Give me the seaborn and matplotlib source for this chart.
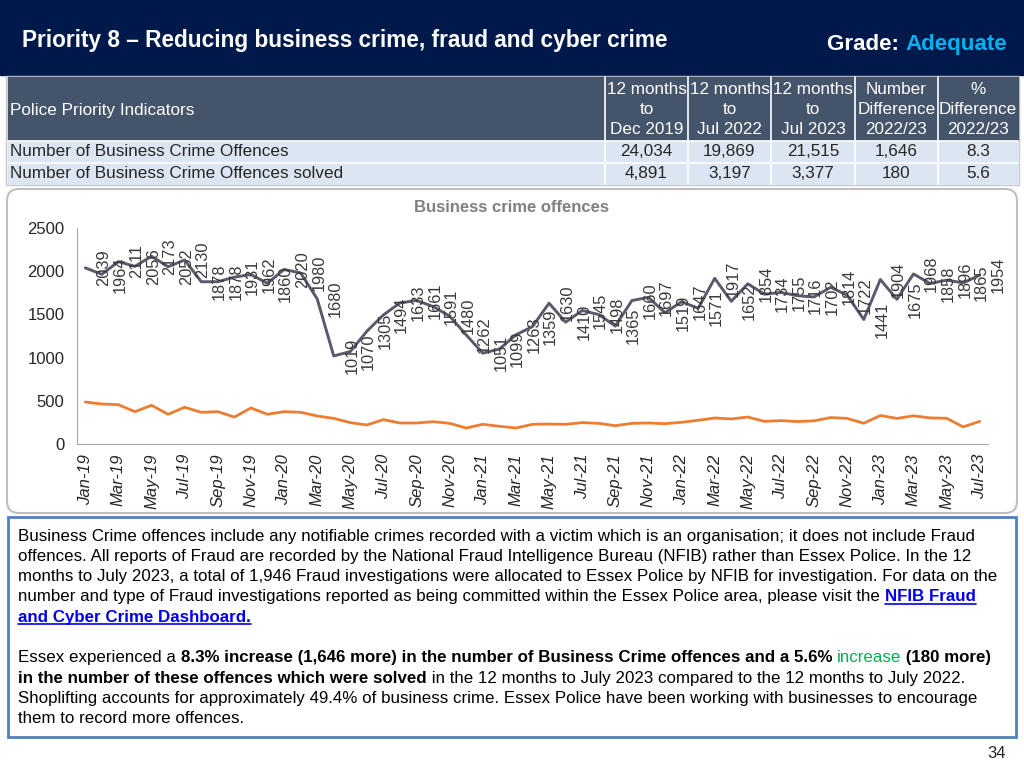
import numpy as np
import pandas as pd
import seaborn as sns
import matplotlib.pyplot as plt
from matplotlib import font_manager
from matplotlib.patches import Rectangle, FancyBboxPatch


# ---------- DATA ---------- #

months = list(pd.date_range("2019-01-01", periods=55, freq="MS").strftime("%b-%y"))

offences = [2039, 1964, 2111, 2056, 2173, 2052, 2130, 1878, 1878, 1931, 1962, 1860,
            2020, 1980, 1680, 1019, 1070, 1305, 1494, 1633, 1661, 1591, 1480, 1262,
            1051, 1099, 1263, 1359, 1630, 1410, 1545, 1498, 1365, 1660, 1697, 1519,
            1647, 1571, 1917, 1652, 1854, 1734, 1755, 1716, 1702, 1814, 1722, 1441,
            1904, 1675, 1968, 1858, 1896, 1865, 1954]

solved = [486, 463, 455, 374, 448, 344, 425, 367, 374, 312, 417, 344,
          374, 367, 324, 297, 247, 220, 282, 243, 243, 258, 239, 185,
          228, 205, 185, 228, 231, 228, 247, 239, 212, 239, 243, 235,
          251, 274, 301, 290, 312, 262, 270, 260, 268, 306, 296, 240,
          330, 296, 326, 302, 298, 198, 262]

table_cols = ["12 months\nto\nDec 2019", "12 months\nto\nJul 2022", "12 months\nto\nJul 2023",
              "Number\nDifference\n2022/23", "%\nDifference\n2022/23"]
table_rows = ["Number of Business Crime Offences", "Number of Business Crime Offences solved"]
table_values = [["24,034", "19,869", "21,515", "1,646", "8.3"],
                ["4,891", "3,197", "3,377", "180", "5.6"]]

title = "Priority 8 \u2013 Reducing business crime, fraud and cyber crime"
chart_title = "Business crime offences"

NAVY = "#00194b"
SLATE = "#44546a"
ROWBG = "#dce6f2"
DARK = "#595a6b"
ORANGE = "#ed7d31"
LINK = "#0000ee"
GREEN = "#00b050"


# ---------- SETUP ---------- #

sns.set_style("white")
plt.rcParams["font.family"] = ["Liberation Sans", "DejaVu Sans"]

try:
    font_manager.findfont("Liberation Sans Narrow", fallback_to_default=False)
    narrow, tsize = "Liberation Sans Narrow", 15
except ValueError:
    narrow, tsize = "Liberation Sans", 12.3

fig = plt.figure(figsize=(10.24, 7.68), dpi=100)
bg = fig.add_axes([0, 0, 1, 1])
bg.set_xlim(0, 1024)
bg.set_ylim(768, 0)
bg.axis("off")
renderer = fig.canvas.get_renderer()


def text_width(txt, **kw):
    # measure with a trailing bar so spaces count
    t1 = bg.text(0, 0, txt + "|", **kw)
    t2 = bg.text(0, 0, "|", **kw)
    w = t1.get_window_extent(renderer).width - t2.get_window_extent(renderer).width
    t1.remove()
    t2.remove()
    return w


def rich_line(x, y, parts, size):
    for txt, kw in parts:
        kw = dict(kw)
        under = kw.pop("underline", False)
        kw.setdefault("color", "black")
        bg.text(x, y, txt, fontsize=size, va="baseline", ha="left", **kw)
        w = text_width(txt, fontsize=size, **kw)
        if under:
            bg.plot([x, x + w], [y + 2.5, y + 2.5], color=kw["color"], lw=1.2)
        x += w


# ---------- HEADER ---------- #

bg.add_patch(Rectangle((0, 0), 1024, 75, color=NAVY, zorder=1))
bg.text(22, 47, title, fontsize=16.3, weight="bold", color="white", va="baseline")
rich_line(827, 50, [("Grade: ", dict(weight="bold", color="white")),
                    ("Adequate", dict(weight="bold", color="#00b0f0"))], 16.1)

# ---------- TABLE ---------- #

edges = [8, 605, 688, 771, 855, 938, 1018]
bg.add_patch(Rectangle((6, 76), 1013, 109, facecolor="white", edgecolor="#c8c8c8", lw=1))
bg.add_patch(Rectangle((8, 77), 1010, 63, color=SLATE))
bg.add_patch(Rectangle((8, 141), 1010, 21, color=ROWBG))
bg.add_patch(Rectangle((8, 163), 1010, 21, color=ROWBG))
for e in edges[1:-1]:
    bg.plot([e, e], [77, 184], color="white", lw=1.2)
bg.plot([8, 1018], [140.5, 140.5], color="white", lw=1.2)
bg.plot([8, 1018], [162.5, 162.5], color="white", lw=1.2)

bg.text(10, 110, "Police Priority Indicators", family=narrow, fontsize=tsize,
        color="white", va="center")
for j, col in enumerate(table_cols):
    cx = (edges[j + 1] + edges[j + 2]) / 2
    for k, line in enumerate(col.split("\n")):
        bg.text(cx, 89 + k * 20.5, line, family=narrow, fontsize=tsize,
                color="white", ha="center", va="center")
for r, (name, vals) in enumerate(zip(table_rows, table_values)):
    ry = 152 + r * 21.5
    bg.text(10, ry, name, family=narrow, fontsize=tsize, va="center")
    for j, v in enumerate(vals):
        cx = (edges[j + 1] + edges[j + 2]) / 2
        bg.text(cx, ry, v, family=narrow, fontsize=tsize, ha="center", va="center")

# ---------- CHART ---------- #

bg.add_patch(FancyBboxPatch((19, 201), 986, 300, boxstyle="round,pad=12",
                            facecolor="white", edgecolor="#bfbfbf", lw=1.5))
bg.text(512, 207, chart_title, fontsize=12, weight="bold", color="#808080",
        ha="center", va="center")

ax = fig.add_axes([77 / 1024, 1 - 444 / 768, 911 / 1024, 216 / 768])
ax.set_zorder(2)
ax.patch.set_alpha(0)

df = pd.DataFrame({"idx": range(len(months)), "month": months,
                   "offences": offences, "solved": solved})
sns.lineplot(data=df, x="idx", y="offences", color=DARK, lw=2.1, ax=ax)
sns.lineplot(data=df, x="idx", y="solved", color=ORANGE, lw=2.0, ax=ax)

for i, v in enumerate(offences):
    ax.text(i + 1.1, v, str(v), rotation=90, ha="center", va="center",
            fontsize=11.8, color="#3a3a3a")

ax.set_xlim(-0.5, len(months) - 0.5)
ax.set_ylim(0, 2500)
ax.set_xticks(range(0, len(months), 2))
ax.set_xticklabels(months[::2], rotation=90, fontsize=12, style="italic")
ax.set_xticks(np.arange(-0.5, len(months), 1), minor=True)
ax.tick_params(axis="x", which="major", length=0, pad=7)
ax.tick_params(axis="x", which="minor", length=5, color="#a6a6a6", direction="out")
ax.set_yticks(range(0, 2501, 500))
ax.tick_params(axis="y", length=4, color="#a6a6a6", labelsize=12, pad=5, direction="out")
for s in ["top", "right"]:
    ax.spines[s].set_visible(False)
for s in ["left", "bottom"]:
    ax.spines[s].set_color("#a6a6a6")
ax.set_xlabel("")
ax.set_ylabel("")

# ---------- TEXT BOX ---------- #

bg.add_patch(Rectangle((8, 517), 1008, 220, facecolor="white", edgecolor="#4f81bd", lw=2))

B = dict(weight="bold")
N = dict()
L = dict(weight="bold", color=LINK, underline=True)
paragraph = [
    [("Business Crime offences include any notifiable crimes recorded with a victim which is an organisation; it does not include Fraud", N)],
    [("offences. All reports of Fraud are recorded by the National Fraud Intelligence Bureau (NFIB) rather than Essex Police. In the 12", N)],
    [("months to July 2023, a total of 1,946 Fraud investigations were allocated to Essex Police by NFIB for investigation. For data on the", N)],
    [("number and type of Fraud investigations reported as being committed within the Essex Police area, please visit the ", N),
     ("NFIB Fraud", L)],
    [("and Cyber Crime Dashboard.", L)],
    [],
    [("Essex experienced a ", N),
     ("8.3% increase (1,646 more) in the number of Business Crime offences and a 5.6% ", B),
     ("increase", dict(color=GREEN)), (" (180 more)", B)],
    [("in the number of these offences which were solved", B),
     (" in the 12 months to July 2023 compared to the 12 months to July 2022.", N)],
    [("Shoplifting accounts for approximately 49.4% of business crime. Essex Police have been working with businesses to encourage", N)],
    [("them to record more offences.", N)],
]
for k, parts in enumerate(paragraph):
    rich_line(18, 540.5 + k * 20.3, parts, 12.2)

bg.text(1006, 753, "34", fontsize=12, ha="right", va="center")

fig.savefig("out.png", dpi=100)
